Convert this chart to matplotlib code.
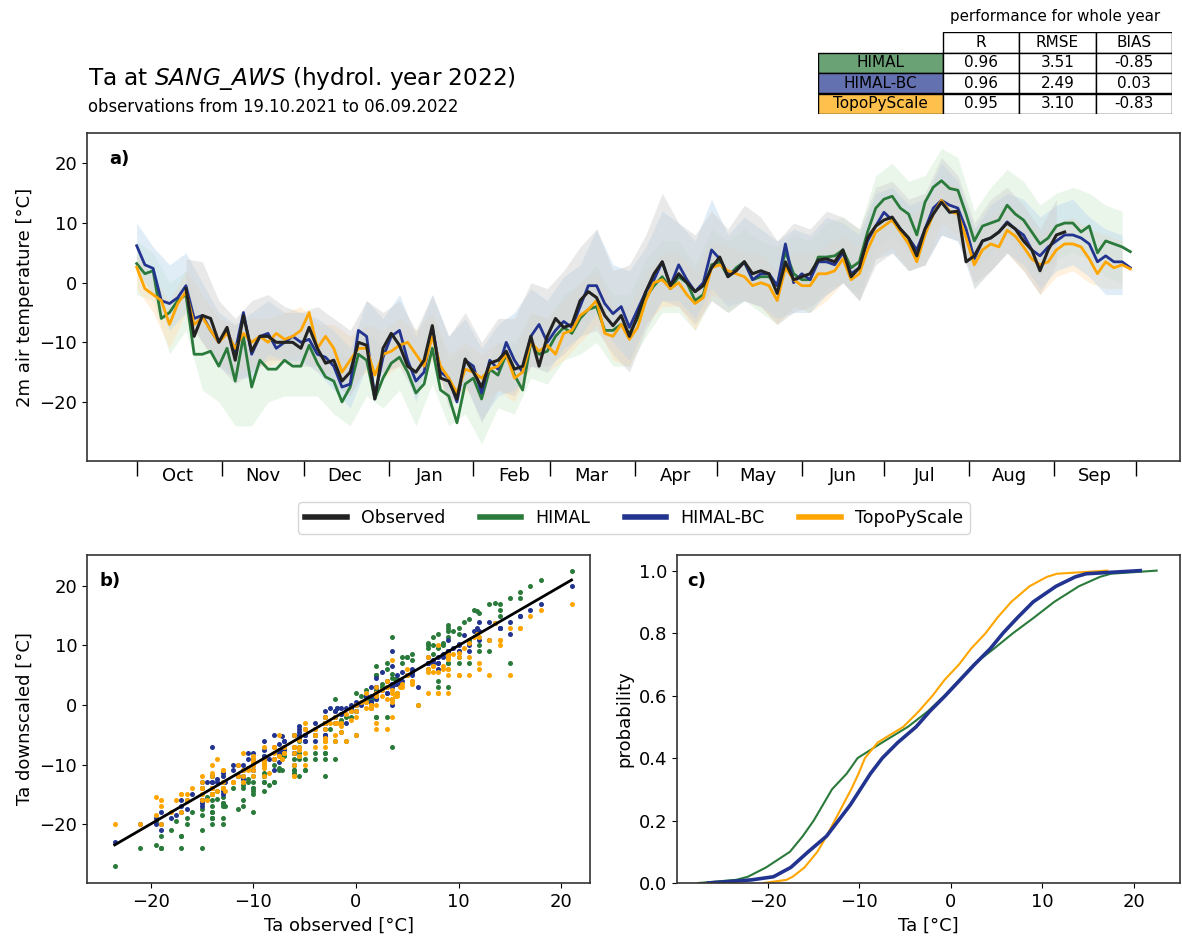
import numpy as np
import pandas as pd
import matplotlib.pyplot as plt
import matplotlib.dates as mdates
from matplotlib.lines import Line2D
from matplotlib.patches import Rectangle

nan = np.nan

# daily mean Ta, every 3rd day starting 1 Oct 2021
start = np.datetime64('2021-10-01')
t3 = start + np.arange(0, 364, 3).astype('timedelta64[D]')
# hourly envelope (min / max), every 6th day
t6 = start + np.arange(0, 361, 6).astype('timedelta64[D]')

obs = [nan, nan, nan, nan, nan, nan,
       -1, -9, -5.5, -6, -10, -7.5, -13, -5.5, -11.5, -9, -9, -10, -10, -10, -11, -7.5, -11, -13.5, -13, -16.5, -15, -10, -10.5, -19.5,
       -11, -8.5, -10.5, -14, -15, -13, -7.2, -16, -16.5, -19.5, -12.8, -15, -17.5, -13.5, -13, -11.5, -14.5, -14, -9, -14, -9, -6, -7.5, -7, -3, -1.5, -2.5, -5.5, -7.2, -5.5, -9, -5.5, -1.5,
       1.5, 3.5, -0.5, 1.5, 0, -1.5, -0.5, 2.5, 4.3, 1, 2, 3.5, 1.5, 2, 1.5, -1.8, 3.5, 0.5, 1, 1.5, 3.8, 4, 3.5, 5.5, 1, 2.5, 7.5, 9.5, 10.5, 11, 9, 7.5, 4.5,
       9, 11.5, 13.5, 11.8, 12, 3.5, 4.5, 7, 7.5, 8.5, 10, 9, 7, 5.5, 2, 5.5, 8, 8.5,
       nan, nan, nan, nan, nan, nan, nan, nan]
himal = [3.2, 1.5, 2.0, -6, -5, -3, -2, -12, -12, -11.5, -14, -11, -16.5, -9, -17.5, -13, -14.5, -14.5, -13, -14, -14, -10.5, -13.5, -15.8, -16.5, -20, -17.5, -12, -13, -19.5,
         -16, -13.5, -12.5, -15, -18.5, -17, -11, -18, -19, -23.5, -17, -16, -19.5, -14.5, -15.5, -12, -15.5, -18, -10, -12, -11.5, -9, -7.5, -8.5, -6, -4.5, -4, -8, -8, -7, -8.5, -6, -2.5,
         -0.5, 1, -1, 1, 0, -3, -2, 3, 3.5, 1, 2.5, 3.5, 0.5, 1, 1, -0.5, 5.2, 1.5, 0.5, 0.5, 4.3, 4.3, 4.5, 5.5, 2.5, 3.5, 8.5, 12.5, 14, 14.5, 12.5, 11.5, 8,
         13.5, 16, 17.1, 15.8, 15.5, 11.5, 7, 9.5, 10, 10.5, 13, 11.5, 10.5, 8.5, 6.5, 7.5, 9.5, 10, 10, 8.5, 9.5, 5, 7, 6.5, 6, 5.2]
himal_bc = [6.2, 3, 2.4, -3, -3.5, -2.5, -0.5, -6, -5.5, -8, -10, -8, -11.5, -5, -12, -9, -8.5, -11, -10, -9, -10, -9.5, -12, -12.5, -14, -17.5, -17, -8, -9, -19,
            -12.5, -9, -8, -13, -16.5, -15, -7.5, -15, -16, -20, -13, -14, -18.5, -13, -14.5, -10, -13, -15, -9, -7, -10, -8, -6.5, -7.5, -4, -0.5, -0.5, -3.5, -5.2, -4, -7.5, -4.5, -1.5,
            0.5, 3.5, -0.5, 3, 0.5, -1.5, 0, 5.5, 4, 1.5, 2, 3.5, 0.5, 1.5, 1.5, -0.5, 6.5, 0, 1.5, 0.5, 3.5, 3.5, 3, 5, 1.5, 2.5, 7, 9.5, 11.8, 10.5, 9, 7.5, 5.5,
            9, 12.5, 13.8, 13, 12.5, 9, 4, 7, 7.5, 8.5, 10.2, 9, 8, 5.5, 4.5, 6, 7, 8, 8, 7.5, 6.5, 3.5, 4.5, 3.5, 3.5, 2.5]
topo = [2.6, -1, -2, -3, -7, -3.5, -1.5, -7, -5.8, -8, -10, -8.5, -11, -8.5, -10, -9, -10, -8.5, -9.5, -9, -8, -5, -11, -9, -11, -15, -13, -11, -11, -15.5,
        -12, -11.5, -10.5, -10, -12, -14, -9, -14, -16, -18.5, -14.5, -15, -16, -14.5, -14, -12, -16, -15, -10, -11.5, -10.5, -12, -8.5, -8, -5.5, -4.5, -3, -8.5, -9, -7, -9.5, -7.5, -3,
        0, 0.5, -1, 0, -2, -3.5, -2.5, 2.5, 3, 2, 1.5, 1, -0.5, 0, -0.5, -3, 2.5, 0.5, -0.5, -0.5, 1.5, 1.5, 2, 4, 0.5, 1.5, 5.5, 8.5, 9.5, 10.5, 8.5, 6.5, 3.5,
        8, 11.5, 13.8, 12, 11.5, 7.5, 3, 5.5, 6.5, 6, 8.8, 7.8, 6, 4, 3, 3.5, 5.5, 6.5, 6.5, 6, 4, 1.5, 3.5, 2.5, 3, 2.3]

obs_lo = [nan, nan, nan,
          -6, -10, -14, -17, -15, -13, -13, -14, -14, -17, -19, -14, -15, -14, -19, -11, -21, -17, -23.5, -18, -19, -14, -14, -12,
          -9, -8, -12, -15, -8, -3, -4, -7, -3, -5, -3, -4, -7, -5, -4, -2, 0, -3, 3, 5, 2, 3, 8, 7, 0, 2, 5, 2, -2, 3,
          nan, nan, nan, nan]
obs_hi = [nan, nan, nan,
          4, 3.5, -3, -6, -3, -2, -4, -5, -4, -6, -8, -3, -5, -3, -8, -2, -9, -5, -10, -6, -6, 0, -1, 2,
          6, 9, 2, 3, 8, 15, 10, 8, 12, 9, 13, 11, 7, 10, 9, 12, 11, 9, 16, 17, 14, 15, 21, 18, 10, 14, 16, 13, 9, 14,
          nan, nan, nan, nan]
himal_lo = [-2, -3, -12, -8, -18, -20, -24, -24, -20, -19, -19, -19, -22, -24, -19, -21, -18, -24, -17, -24,
            -22, -27, -21, -22, -16, -17, -13, -12, -10, -14, -14, -9, -5, -5, -8, -3, -5, -3, -5, -7,
            -4, -5, -1, 0, -2, 6, 8, 5, 7, 12, 10, 2, 5, 8, 5, 1, 4, 5, 4, 1, 0]
himal_hi = [7, 5, 0, 2, -7, -9, -11, -12, -9, -8, -9, -9, -11, -13, -8, -11, -8, -13, -6, -13,
            -11, -15, -10, -10, -5, -6, -2, 0, 3, -2, -2, 4, 7, 7, 3, 9, 7, 9, 7, 6,
            8, 7, 10, 11, 9, 18, 20, 17, 18, 22.5, 21, 12, 16, 19, 17, 13, 15, 16, 15, 13, 12]
bc_lo = [2, -2, -8, -5, -10, -14, -16, -16, -12, -13, -13, -15, -18, -21, -14, -16, -12, -20, -11, -20,
         -17, -23, -19, -18, -14, -15, -11, -9, -5, -10, -13, -7, -3, -3, -6, -1, -4, -3, -4, -6,
         -5, -5, -2, 0, -3, 4, 5, 2, 3, 8, 7, -1, 2, 5, 3, -1, 2, 3, 1, -2, -2]
bc_hi = [10, 6, 3, 5, 0, -5, -7, -5, -3, -5, -5, -6, -8, -11, -3, -6, -2, -9, -2, -9,
         -6, -11, -7, -5, -1, -3, 1, 3, 9, 3, 2, 6, 12, 10, 7, 14, 8, 11, 9, 7,
         9, 8, 11, 10, 8, 15, 16, 13, 14, 20, 17, 9, 13, 15, 14, 11, 13, 14, 11, 9, 8]
topo_lo = [-1, -5, -11, -5, -10, -14, -15, -14, -14, -13, -12, -15, -15, -17, -15, -16, -14, -16, -13, -20,
           -18, -20, -18, -20, -14, -15, -13, -10, -7, -13, -14, -7, -4, -4, -8, -2, -3, -3, -4, -7,
           -4, -5, -3, 0, -3, 4, 6, 2, 3, 10, 8, -1, 2, 5, 2, -2, 1, 2, 0, -1, -1]
topo_hi = [5, 1, -3, 2, -2, -6, -7, -6, -6, -5, -4, -7, -7, -9, -7, -8, -6, -8, -5, -12,
           -10, -12, -10, -12, -5, -6, -3, 0, 2, -4, -4, 2, 5, 5, 2, 7, 6, 5, 5, 2,
           5, 5, 6, 8, 6, 13, 15, 11, 13, 17, 16, 8, 11, 13, 11, 8, 10, 11, 9, 8, 7]

# empirical CDFs read as quantiles
prob = [0, 0.01, 0.02, 0.05, 0.1, 0.15, 0.2, 0.25, 0.3, 0.35, 0.4, 0.45, 0.5,
        0.55, 0.6, 0.65, 0.7, 0.75, 0.8, 0.85, 0.9, 0.95, 0.98, 0.99, 1.0]
q_himal = [-27.6, -23.5, -22.2, -20.2, -17.6, -16.2, -15.0, -14.0, -13.0, -11.4, -10.2, -7.5, -4.7,
           -2.5, -0.7, 0.9, 2.5, 4.7, 6.8, 9.1, 11.3, 14.0, 16.3, 17.5, 22.5]
q_bc = [-26.5, -21.8, -19.4, -17.5, -15.6, -13.6, -12.3, -11.0, -9.9, -8.8, -7.5, -5.8, -3.8,
        -2.3, -0.6, 1.0, 2.6, 4.3, 5.7, 7.3, 9.0, 11.5, 13.6, 14.8, 20.7]
q_topo = [-20.5, -18.0, -17.3, -16.0, -14.6, -13.6, -12.7, -11.8, -10.9, -10.1, -9.4, -8.0, -5.2,
          -3.5, -2.0, -0.7, 0.9, 2.2, 3.8, 5.1, 6.6, 8.6, 10.5, 11.6, 17.1]

models = ['HIMAL', 'HIMAL-BC', 'TopoPyScale']
stat_cols = ['R', 'RMSE', 'BIAS']
stat_vals = [['0.96', '3.51', '-0.85'],
             ['0.96', '2.49', '0.03'],
             ['0.95', '3.10', '-0.83']]
month_labels = ['Oct', 'Nov', 'Dec', 'Jan', 'Feb', 'Mar', 'Apr', 'May', 'Jun', 'Jul', 'Aug', 'Sep']

c_obs, c_him, c_bc, c_topo = '#222222', '#2a7a3b', '#22348f', '#ffa500'
pale = {'him': '#d3ecd3', 'bc': '#bcd8ee', 'topo': '#ffe0b4', 'obs': '#cfcfcf'}

plt.rcParams['font.size'] = 13
plt.rcParams['axes.edgecolor'] = '#333333'
plt.rcParams['axes.linewidth'] = 1.2

W, H = 1182, 943
fig = plt.figure(figsize=(W / 100, H / 100), dpi=100)


def box(l, t, r, b):
    return [l / W, 1 - b / H, (r - l) / W, (b - t) / H]


# ---- a) time series
ax = fig.add_axes(box(87, 133, 1180, 461))
ax.fill_between(t6, himal_lo, himal_hi, color=pale['him'], alpha=0.45, lw=0)
ax.fill_between(t6, topo_lo, topo_hi, color=pale['topo'], alpha=0.45, lw=0)
ax.fill_between(t6, bc_lo, bc_hi, color=pale['bc'], alpha=0.45, lw=0)
ax.fill_between(t6, obs_lo, obs_hi, color=pale['obs'], alpha=0.45, lw=0)
ax.plot(t3, himal, color=c_him, lw=2)
ax.plot(t3, himal_bc, color=c_bc, lw=2)
ax.plot(t3, topo, color=c_topo, lw=2)
ax.plot(t3, obs, color=c_obs, lw=2.2)
ax.set_ylim(-29.9, 25.1)
ax.set_ylabel('2m air temperature [°C]')
ax.xaxis.set_major_locator(mdates.MonthLocator())
ax.xaxis.set_major_formatter(plt.NullFormatter())
mids = pd.date_range('2021-10-01', periods=12, freq='MS') + pd.Timedelta(days=15)
ax.set_xticks(mids, month_labels, minor=True)
ax.tick_params(axis='x', which='major', length=11, width=1)
ax.tick_params(axis='x', which='minor', length=0, pad=4)
ax.text(0.02, 0.92, 'a)', transform=ax.transAxes, fontweight='bold', va='center')

# ---- b) scatter
axb = fig.add_axes(box(87, 555, 590, 883))
obs_all = np.concatenate([obs, obs_lo, obs_hi])
for vals, lo, hi, col in [(himal, himal_lo, himal_hi, c_him),
                          (himal_bc, bc_lo, bc_hi, c_bc),
                          (topo, topo_lo, topo_hi, c_topo)]:
    axb.scatter(obs_all, np.concatenate([vals, lo, hi]), s=13, color=col, lw=0)
lo1, hi1 = np.nanmin(obs_all), np.nanmax(obs_all)
axb.plot([lo1, hi1], [lo1, hi1], color='black', lw=2)
axb.set_xlim(-26.2, 22.8)
axb.set_ylim(-29.9, 25.2)
axb.set_xlabel('Ta observed [°C]')
axb.set_ylabel('Ta downscaled [°C]')
axb.text(0.025, 0.92, 'b)', transform=axb.transAxes, fontweight='bold', va='center')

# ---- c) CDF
axc = fig.add_axes(box(677, 555, 1180, 883))
axc.plot(q_himal, prob, color=c_him, lw=1.5)
axc.plot(q_topo, prob, color=c_topo, lw=1.5)
axc.plot(q_bc, prob, color=c_bc, lw=2.6)
axc.set_xlim(-29.95, 25.05)
axc.set_ylim(0, 1.05)
axc.set_xlabel('Ta [°C]')
axc.set_ylabel('probability')
axc.text(0.02, 0.92, 'c)', transform=axc.transAxes, fontweight='bold', va='center')

# ---- legend
handles = [Line2D([], [], color=c, lw=4) for c in [c_obs, c_him, c_bc, c_topo]]
fig.legend(handles, ['Observed', 'HIMAL', 'HIMAL-BC', 'TopoPyScale'], loc='center',
           bbox_to_anchor=(634 / W, 1 - 518 / H), ncol=4, fontsize=12.5,
           handlelength=2.4, columnspacing=2.0, frameon=True)

# ---- titles
fig.text(88 / W, 1 - 78 / H, r'Ta at $\it{SANG\_AWS}$ (hydrol. year 2022)', fontsize=16.7, va='center')
fig.text(88 / W, 1 - 107 / H, 'observations from 19.10.2021 to 06.09.2022', fontsize=11.9, va='center')

# ---- performance table
axt = fig.add_axes(box(818, 32, 1172, 114))
axt.set_xlim(0, 352)
axt.set_ylim(4, 0)
axt.axis('off')
col_x = [0, 124, 200, 276, 352]
cell_col = ['#6aa276', '#6471b1', '#ffc04c']
for j, name in enumerate(stat_cols):
    axt.add_patch(Rectangle((col_x[j + 1], 0), col_x[j + 2] - col_x[j + 1], 1, fc='white', ec='black', lw=1))
    axt.text((col_x[j + 1] + col_x[j + 2]) / 2, 0.5, name, ha='center', va='center', fontsize=11)
for i, name in enumerate(models):
    axt.add_patch(Rectangle((0, i + 1), 124, 1, fc=cell_col[i], ec='black', lw=1))
    axt.text(62, i + 1.5, name, ha='center', va='center', fontsize=11)
    for j in range(3):
        axt.add_patch(Rectangle((col_x[j + 1], i + 1), col_x[j + 2] - col_x[j + 1], 1, fc='white', ec='black', lw=1))
        axt.text((col_x[j + 1] + col_x[j + 2]) / 2, i + 1.5, stat_vals[i][j], ha='center', va='center', fontsize=11)
fig.text(1055 / W, 1 - 17 / H, 'performance for whole year', ha='center', va='center', fontsize=10.8)

fig.savefig('out.png', dpi=100)
